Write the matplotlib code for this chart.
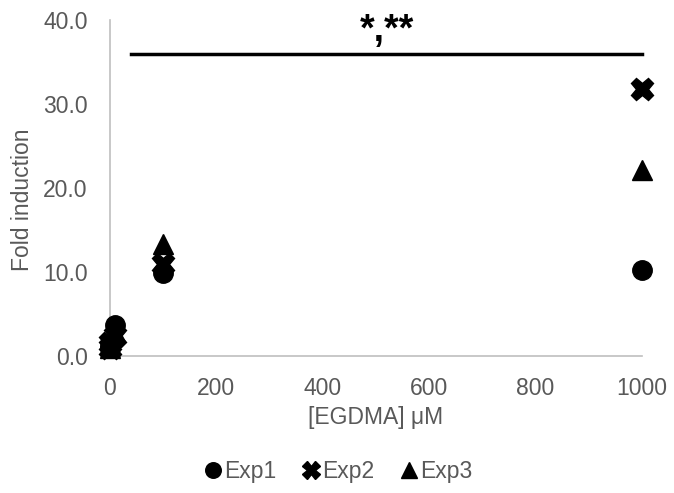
import matplotlib
matplotlib.use("Agg")
import matplotlib.pyplot as plt

conc = [0, 1, 10, 100, 1000]
exp1 = [1.0, 1.2, 3.7, 9.9, 10.2]
exp2 = [1.0, 1.6, 2.4, 10.9, 31.8]
exp3 = [1.0, 1.3, 2.9, 13.3, 22.2]
series_names = ["Exp1", "Exp2", "Exp3"]
yticks = [0, 10, 20, 30, 40]
xticks = [0, 200, 400, 600, 800, 1000]
sig_x = [40, 1000]
sig_y = 36.0
sig_label = "*,**"

plt.rcParams['font.family'] = ['Liberation Sans', 'DejaVu Sans']
txt = '#595959'
grey = '#BFBFBF'
fs = 16.5

fig = plt.figure(figsize=(6.74, 4.93), dpi=100)
ax = fig.add_axes([0.163, 0.278, 0.7895, 0.681])

ax.plot(conc, exp1, 'o', color='black', markersize=14, label=series_names[0], clip_on=False, zorder=3)
ax.plot(conc, exp2, 'X', color='black', markersize=16, label=series_names[1], clip_on=False, zorder=3)
ax.plot(conc, exp3, '^', color='black', markersize=15, label=series_names[2], clip_on=False, zorder=3)

ax.plot(sig_x, [sig_y, sig_y], color='black', linewidth=2.5, clip_on=False)
ax.text(521, sig_y + 0.6, sig_label, ha='center', va='bottom', fontsize=27,
        fontweight='bold', color='black')

ax.set_xlim(0, 1000)
ax.set_ylim(0, 40)
ax.set_xticks(xticks)
ax.set_yticks(yticks)
ax.set_yticklabels([f"{v:.1f}" for v in yticks])
ax.tick_params(axis='y', length=0, labelsize=fs, colors=txt, pad=16)
ax.tick_params(axis='x', length=0, labelsize=fs, colors=txt, pad=15)
for s in ['top', 'right']:
    ax.spines[s].set_visible(False)
for s in ['left', 'bottom']:
    ax.spines[s].set_color(grey)
    ax.spines[s].set_linewidth(1.2)

ax.set_xlabel("[EGDMA] μM", fontsize=fs, color=txt)
ax.set_ylabel("Fold induction", fontsize=fs, color=txt)
ax.xaxis.set_label_coords(0.5, -0.15)
ax.yaxis.set_label_coords(-0.142, 0.465)

leg = fig.legend(*ax.get_legend_handles_labels(), loc='center', bbox_to_anchor=(0.5, 0.043),
                 ncol=3, frameon=False, fontsize=fs, handletextpad=0.0, columnspacing=1.0,
                 markerscale=0.8, handlelength=1.0)
for t in leg.get_texts():
    t.set_color(txt)

fig.savefig("out.png", dpi=100)
